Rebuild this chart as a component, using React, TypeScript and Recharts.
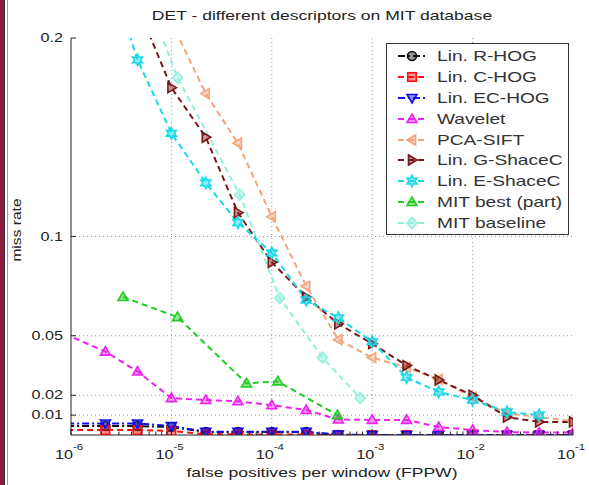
import React from 'react';
import { LineChart, Line, XAxis, YAxis, Legend, ReferenceLine, Customized } from 'recharts';

const W = 589;
const H = 485;
const STRETCH = 1.35;
const FONT = '"Liberation Sans", Arial, Helvetica, sans-serif';
const INK = '#222';

// axis ticks
const xMajorTicks = [1e-6, 1e-5, 1e-4, 1e-3, 1e-2, 1e-1];
const xTickExponents = ['-6', '-5', '-4', '-3', '-2', '-1'];
const xMinorSteps = [2, 3, 4, 5, 6, 7, 8, 9];
const xGridTicks = [1e-5, 1e-4, 1e-3, 1e-2];
const yTicks = [0.01, 0.02, 0.05, 0.1, 0.2];
const yTickLabels = ['0.01', '0.02', '0.05', '0.1', '0.2'];
const yGridTicks = [0.01, 0.02, 0.05, 0.1];

// series (false positives per window -> miss rate)
const hogFppw = [4.6e-7, 2.2e-6, 4.6e-6, 1e-5, 2.2e-5, 4.6e-5, 1e-4, 2.2e-4, 4.6e-4, 1e-3, 2.2e-3, 4.6e-3, 1e-2, 2.2e-2, 4.6e-2, 1e-1];
const rHogMiss = [0.0045, 0.0045, 0.0045, 0.004, 0.0015, 0.0015, 0.0015, 0.0015, 0, 0, 0, 0, 0, 0, 0, 0];
const cHogMiss = [0.0025, 0.0025, 0.0025, 0.002, 0.0004, 0.0003, 0.0003, 0.0002, 0, 0, 0, 0, 0, 0, 0, 0];
const ecHogMiss = [0.0058, 0.0058, 0.0058, 0.0045, 0.0016, 0.0016, 0.0016, 0.0016, 0.0002, 0, 0, 0, 0, 0, 0, 0];

const waveletFppw = [4.6e-7, 2.2e-6, 4.6e-6, 1e-5, 2.2e-5, 4.6e-5, 1e-4, 2.2e-4, 4.6e-4, 1e-3, 2.2e-3, 4.6e-3, 1e-2, 2.2e-2, 4.6e-2, 1e-1];
const waveletMiss = [0.057, 0.042, 0.032, 0.0186, 0.0176, 0.017, 0.015, 0.0126, 0.0078, 0.0076, 0.0076, 0.004, 0.0025, 0.0015, 0.0012, 0.0012];

const pcaSiftFppw = [1e-5, 2.2e-5, 4.6e-5, 1e-4, 2.2e-4, 4.6e-4, 1e-3, 2.2e-3, 4.6e-3, 1e-2, 2.2e-2, 4.6e-2, 1e-1];
const pcaSiftMiss = [0.208, 0.172, 0.147, 0.11, 0.075, 0.048, 0.039, 0.034, 0.028, 0.019, 0.011, 0.009, 0.007];

const gShaceFppw = [4.6e-6, 1e-5, 2.2e-5, 4.6e-5, 1e-4, 2.2e-4, 4.6e-4, 1e-3, 2.2e-3, 4.6e-3, 1e-2, 2.2e-2, 4.6e-2, 1e-1];
const gShaceMiss = [0.216, 0.175, 0.15, 0.112, 0.087, 0.0695, 0.056, 0.046, 0.035, 0.0277, 0.02, 0.009, 0.0066, 0.0066];

const eShaceFppw = [2.2e-6, 4.6e-6, 1e-5, 2.2e-5, 4.6e-5, 1e-4, 2.2e-4, 4.6e-4, 1e-3, 2.2e-3, 4.6e-3, 1e-2, 2.2e-2, 4.6e-2];
const eShaceMiss = [0.24, 0.189, 0.152, 0.127, 0.107, 0.0917, 0.068, 0.059, 0.047, 0.029, 0.0217, 0.0176, 0.0116, 0.01];

const mitBestFppw = [3.3e-6, 1.15e-5, 5.6e-5, 1.15e-4, 4.5e-4];
const mitBestMiss = [0.0695, 0.0594, 0.026, 0.027, 0.01];

const mitBaseFppw = [5.6e-6, 1.15e-5, 4.8e-5, 1.2e-4, 3.2e-4, 7.6e-4];
const mitBaseMiss = [0.222, 0.18, 0.121, 0.069, 0.039, 0.0186];

const DASHED = '6 4';
const DASH_DOT = '7 3 2 3';

type Shape = 'circle' | 'square' | 'down' | 'up' | 'left' | 'right' | 'hexagram' | 'diamond';

const toRows = (fppw: number[], miss: number[]) => fppw.map((f, i) => ({ fppw: f, miss: miss[i] }));

const series: { name: string; rows: { fppw: number; miss: number }[]; color: string; shape: Shape; dash: string }[] = [
  { name: 'Lin. R-HOG', rows: toRows(hogFppw, rHogMiss), color: '#111111', shape: 'circle', dash: DASH_DOT },
  { name: 'Lin. C-HOG', rows: toRows(hogFppw, cHogMiss), color: '#ff1010', shape: 'square', dash: DASHED },
  { name: 'Lin. EC-HOG', rows: toRows(hogFppw, ecHogMiss), color: '#1010ee', shape: 'down', dash: DASH_DOT },
  { name: 'Wavelet', rows: toRows(waveletFppw, waveletMiss), color: '#ee22ee', shape: 'up', dash: DASHED },
  { name: 'PCA-SIFT', rows: toRows(pcaSiftFppw, pcaSiftMiss), color: '#f2a47c', shape: 'left', dash: DASHED },
  { name: 'Lin. G-ShaceC', rows: toRows(gShaceFppw, gShaceMiss), color: '#7a1616', shape: 'right', dash: DASHED },
  { name: 'Lin. E-ShaceC', rows: toRows(eShaceFppw, eShaceMiss), color: '#19d8e8', shape: 'hexagram', dash: DASHED },
  { name: 'MIT best (part)', rows: toRows(mitBestFppw, mitBestMiss), color: '#22cc22', shape: 'up', dash: DASHED },
  { name: 'MIT baseline', rows: toRows(mitBaseFppw, mitBaseMiss), color: '#8ff0dc', shape: 'diamond', dash: DASHED },
];

const xAllTicks = [...xMajorTicks, ...xMajorTicks.slice(0, -1).flatMap((m) => xMinorSteps.map((k) => k * m))].sort((a, b) => a - b);
const majorIndex = (v: number) => xMajorTicks.findIndex((m) => Math.abs(m - v) / m < 1e-6);

function Marker({ cx, cy, shape, color, s = 5 }: { cx: number; cy: number; shape: Shape; color: string; s?: number }) {
  const style = { stroke: color, strokeWidth: 1.6, fill: color, fillOpacity: 0.45 };
  const poly = (pts: number[][]) => <polygon points={pts.map((p) => p.join(',')).join(' ')} {...style} />;
  switch (shape) {
    case 'circle':
      return <circle cx={cx} cy={cy} r={s * 0.9} {...style} />;
    case 'square':
      return <rect x={cx - s * 0.85} y={cy - s * 0.85} width={s * 1.7} height={s * 1.7} {...style} />;
    case 'down':
      return poly([[cx - s, cy - s * 0.7], [cx + s, cy - s * 0.7], [cx, cy + s]]);
    case 'up':
      return poly([[cx - s, cy + s * 0.7], [cx + s, cy + s * 0.7], [cx, cy - s]]);
    case 'left':
      return poly([[cx + s * 0.7, cy - s], [cx + s * 0.7, cy + s], [cx - s, cy]]);
    case 'right':
      return poly([[cx - s * 0.7, cy - s], [cx - s * 0.7, cy + s], [cx + s, cy]]);
    case 'diamond':
      return poly([[cx, cy - s * 1.1], [cx + s, cy], [cx, cy + s * 1.1], [cx - s, cy]]);
    case 'hexagram': {
      const pts: number[][] = [];
      for (let i = 0; i < 12; i++) {
        const r = i % 2 === 0 ? s * 1.15 : s * 0.6;
        const a = (Math.PI / 6) * i - Math.PI / 2;
        pts.push([cx + r * Math.cos(a), cy + r * Math.sin(a)]);
      }
      return poly(pts);
    }
  }
  return null;
}

const XTickBottom = (props: any) => {
  const { x, y, payload } = props;
  const idx = majorIndex(payload.value);
  return (
    <g>
      <line x1={x} x2={x} y1={y} y2={y - (idx >= 0 ? 6 : 3.5)} stroke={INK} />
      {idx >= 0 && (
        <g fontFamily={FONT} fill={INK}>
          <text transform={`translate(${x + 2},${y + 24}) scale(${STRETCH},1)`} textAnchor="end" fontSize={12}>
            10
          </text>
          <text transform={`translate(${x + 2},${y + 15}) scale(${STRETCH},1)`} textAnchor="start" fontSize={8.5}>
            {xTickExponents[idx]}
          </text>
        </g>
      )}
    </g>
  );
};

const XTickTop = (props: any) => {
  const { x, y, payload } = props;
  const idx = majorIndex(payload.value);
  return <line x1={x} x2={x} y1={y} y2={y + (idx >= 0 ? 6 : 3.5)} stroke={INK} />;
};

const YTickLeft = (props: any) => {
  const { x, y, index } = props;
  return (
    <g>
      <line x1={x} x2={x + 5} y1={y} y2={y} stroke={INK} />
      <text
        transform={`translate(${x - 8},${y + 4}) scale(${STRETCH},1)`}
        textAnchor="end"
        fontSize={12}
        fontFamily={FONT}
        fill={INK}
      >
        {yTickLabels[index]}
      </text>
    </g>
  );
};

const YTickRight = (props: any) => {
  const { x, y } = props;
  return <line x1={x} x2={x - 5} y1={y} y2={y} stroke={INK} />;
};

const TextLabels = () => (
  <g fontFamily={FONT} fill={INK}>
    <text transform={`translate(322,20) scale(${STRETCH},1)`} textAnchor="middle" fontSize={13}>
      DET - different descriptors on MIT database
    </text>
    <text transform={`translate(322,477) scale(${STRETCH},1)`} textAnchor="middle" fontSize={13}>
      false positives per window (FPPW)
    </text>
    <text transform={`translate(21,230) rotate(-90) scale(1.2,1)`} textAnchor="middle" fontSize={13}>
      miss rate
    </text>
  </g>
);

const LegendBox = () => (
  <div
    style={{
      width: 183,
      height: 192,
      boxSizing: 'border-box',
      border: '1px solid #333',
      background: '#fff',
      paddingTop: 2,
    }}
  >
    {series.map((s) => (
      <div key={s.name} style={{ height: 20.8, display: 'flex', alignItems: 'center' }}>
        <svg width={50} height={20} style={{ flex: 'none' }}>
          <line x1={11} x2={39} y1={10} y2={10} stroke={s.color} strokeWidth={2} strokeDasharray={s.dash} />
          <Marker cx={25} cy={10} shape={s.shape} color={s.color} />
        </svg>
        <span
          style={{
            display: 'inline-block',
            fontFamily: FONT,
            fontSize: 14.5,
            color: '#333',
            transform: 'scaleX(1.32)',
            transformOrigin: 'left center',
            whiteSpace: 'nowrap',
            lineHeight: '20px',
          }}
        >
          {s.name}
        </span>
      </div>
    ))}
  </div>
);

export default function App() {
  return (
    <div style={{ position: 'absolute', left: 0, top: 0, width: W, height: H, background: '#fff' }}>
      <div style={{ position: 'absolute', left: 0, top: 0, width: 4, height: H, background: '#8e1a3e' }} />
      <div style={{ position: 'absolute', left: 4, top: 0, width: 1, height: H, background: '#3b2a3a' }} />
      <div style={{ position: 'absolute', left: 7, top: 0, width: 1, height: H, background: '#999' }} />
      <LineChart width={W} height={H} margin={{ top: 38, right: 16, left: 0, bottom: 0 }}>
        <XAxis
          dataKey="fppw"
          type="number"
          scale="log"
          domain={[1e-6, 1e-1]}
          allowDataOverflow
          ticks={xAllTicks}
          interval={0}
          tick={XTickBottom}
          tickLine={false}
          tickSize={0}
          tickMargin={0}
          height={50}
          axisLine={{ stroke: INK }}
        />
        <XAxis
          xAxisId="top"
          orientation="top"
          type="number"
          scale="log"
          domain={[1e-6, 1e-1]}
          allowDataOverflow
          ticks={xAllTicks}
          interval={0}
          tick={XTickTop}
          tickLine={false}
          tickSize={0}
          tickMargin={0}
          height={0}
          axisLine={{ stroke: INK }}
        />
        <YAxis
          type="number"
          domain={[0, 0.2]}
          allowDataOverflow
          ticks={yTicks}
          interval={0}
          tick={YTickLeft}
          tickLine={false}
          tickSize={0}
          tickMargin={0}
          width={71}
          axisLine={{ stroke: INK }}
        />
        <YAxis
          yAxisId="right"
          orientation="right"
          type="number"
          domain={[0, 0.2]}
          allowDataOverflow
          ticks={yTicks}
          interval={0}
          tick={YTickRight}
          tickLine={false}
          tickSize={0}
          tickMargin={0}
          width={0}
          axisLine={{ stroke: INK }}
        />
        {xGridTicks.map((v) => (
          <ReferenceLine key={`gx${v}`} x={v} stroke="#999" strokeDasharray="1 3" />
        ))}
        {yGridTicks.map((v) => (
          <ReferenceLine key={`gy${v}`} y={v} stroke="#999" strokeDasharray="1 3" />
        ))}
        {series.map((s) => (
          <Line
            key={s.name}
            data={s.rows}
            dataKey="miss"
            name={s.name}
            type="linear"
            stroke={s.color}
            strokeWidth={2}
            strokeDasharray={s.dash}
            isAnimationActive={false}
            dot={(p: any) =>
              p.cx == null || p.cy == null ? (
                <g key={`${s.name}-${p.index}`} />
              ) : (
                <Marker key={`${s.name}-${p.index}`} cx={p.cx} cy={p.cy} shape={s.shape} color={s.color} />
              )
            }
            activeDot={false}
          />
        ))}
        <Legend
          content={<LegendBox />}
          layout="vertical"
          align="center"
          verticalAlign="middle"
          wrapperStyle={{ left: 386, top: 43, width: 183, height: 192 }}
        />
        <Customized component={TextLabels} />
      </LineChart>
    </div>
  );
}
